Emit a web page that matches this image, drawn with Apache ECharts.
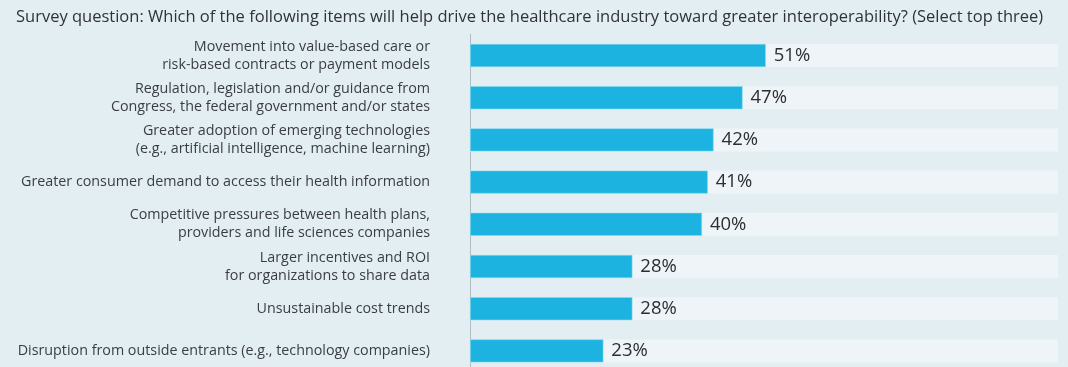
<!DOCTYPE html>
<html>
<head>
<meta charset="utf-8">
<script src="https://cdn.jsdelivr.net/npm/echarts@6/dist/echarts.min.js"></script>
<style>
html,body{margin:0;padding:0;background:#e3eef3;}
#chart{width:1068px;height:367px;}
</style>
</head>
<body>
<div id="chart"></div>
<script>
const titleText = 'Survey question: Which of the following items will help drive the healthcare industry toward greater interoperability? (Select top three)';
const categories = [
  'Movement into value-based care or\nrisk-based contracts or payment models',
  'Regulation, legislation and/or guidance from\nCongress, the federal government and/or states',
  'Greater adoption of emerging technologies\n(e.g., artificial intelligence, machine learning)',
  'Greater consumer demand to access their health information',
  'Competitive pressures between health plans,\nproviders and life sciences companies',
  'Larger incentives and ROI\nfor organizations to share data',
  'Unsustainable cost trends',
  'Disruption from outside entrants (e.g., technology companies)'
];
const values = [51, 47, 42, 41, 40, 28, 28, 23];

const chart = echarts.init(document.getElementById('chart'), null, {renderer: 'canvas'});
chart.setOption({
  backgroundColor: '#e3eef3',
  animation: false,
  title: {
    text: titleText,
    left: 16,
    top: 9,
    padding: 0,
    textStyle: {fontFamily: 'Open Sans', fontSize: 16.5, fontWeight: 'normal', color: '#2f3336'}
  },
  grid: {left: 470, right: 10, top: 34.4, height: 337.6, outerBoundsMode: 'none', containLabel: false},
  xAxis: {
    type: 'value', min: 0, max: 101.4,
    show: false
  },
  yAxis: {
    type: 'category', data: categories, inverse: true,
    axisLine: {show: true, lineStyle: {color: '#b3bcc2', width: 1}},
    axisTick: {show: false},
    axisLabel: {
      margin: 40, fontFamily: 'Open Sans', fontSize: 14.3, color: '#3a3e41', lineHeight: 18, align: 'right'
    }
  },
  series: [{
    type: 'bar', data: values, barWidth: 23,
    showBackground: true,
    backgroundStyle: {color: '#eef4f7'},
    itemStyle: {color: '#1cb3e0', borderColor: '#7fd6ef', borderWidth: 0.6},
    label: {
      show: true, position: 'right', distance: 8, formatter: '{c}%',
      fontFamily: 'Open Sans', fontSize: 18.5, color: '#2b2f32'
    }
  }]
});
</script>
</body>
</html>
